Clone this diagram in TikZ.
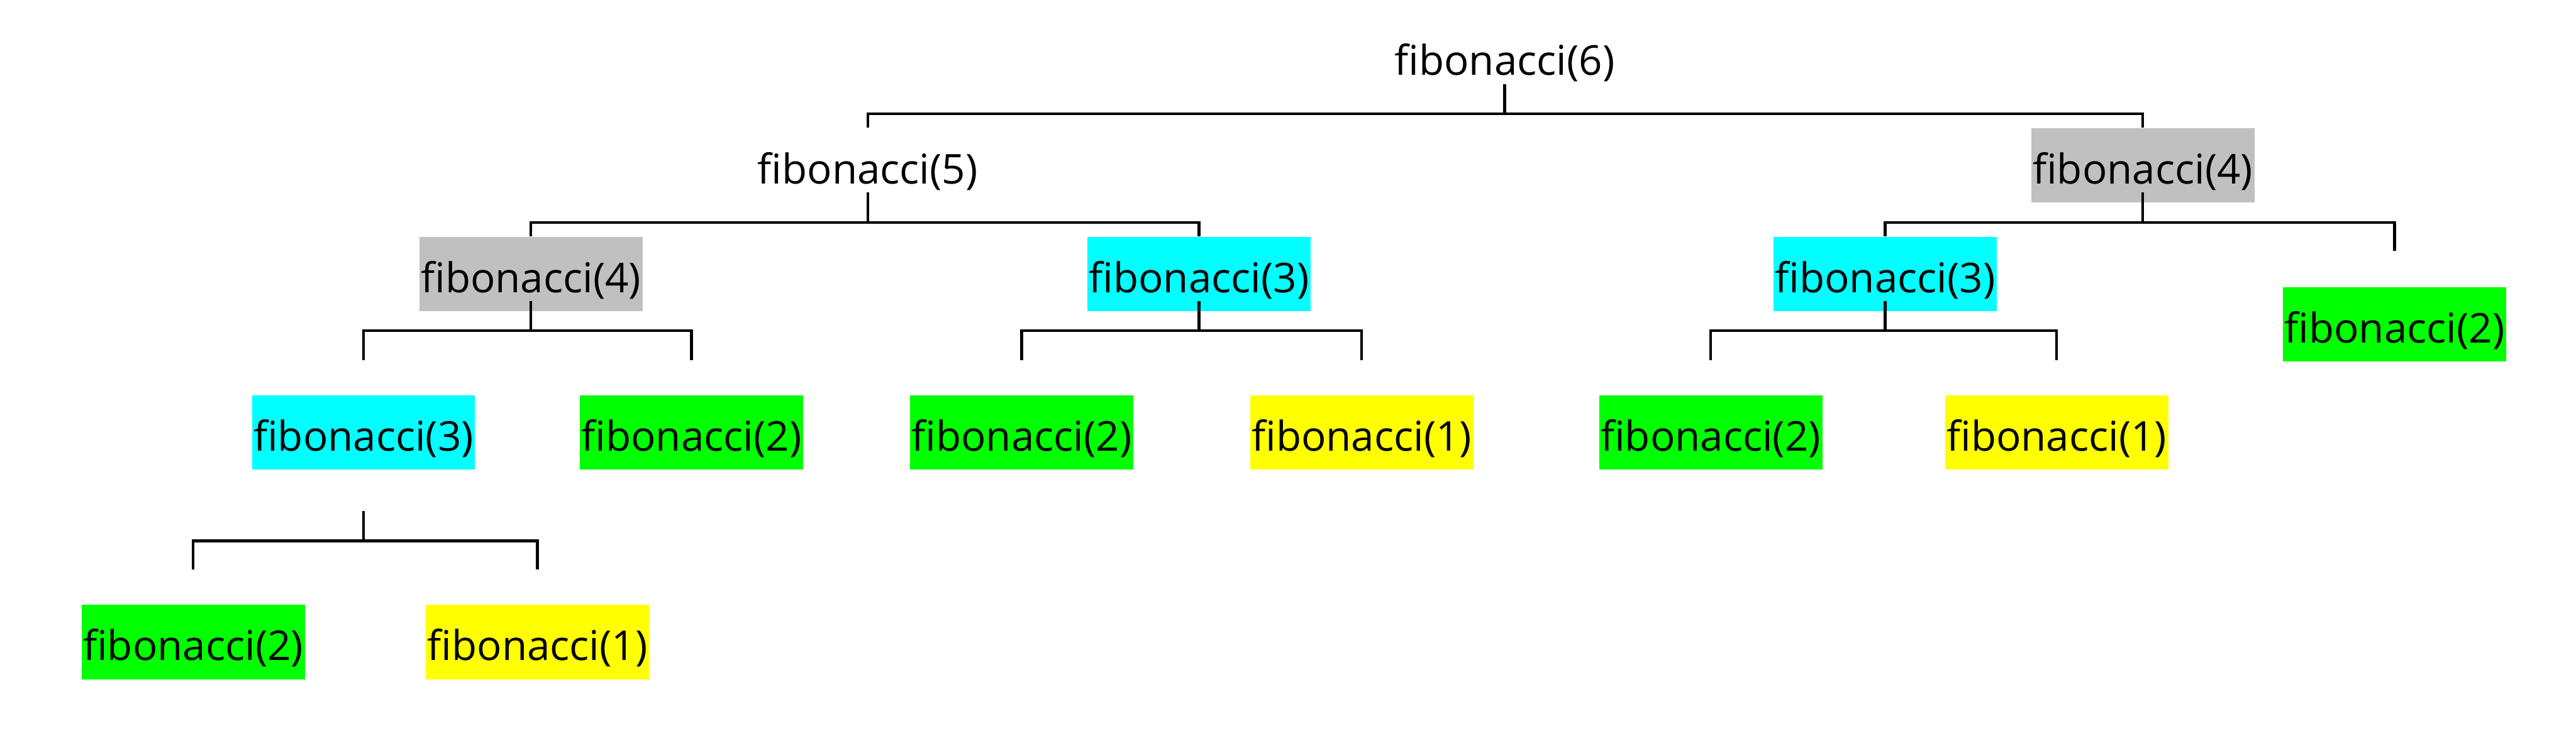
\documentclass[tikz,border=0pt]{standalone}
\usepackage{fontspec}
\setmainfont{Open Sans}
\usetikzlibrary{calc}
\definecolor{cgray}{HTML}{C0C0C0}
\definecolor{ccyan}{HTML}{00FFFF}
\definecolor{cgreen}{HTML}{00FF00}
\definecolor{cyell}{HTML}{FFFF00}
\tikzset{
  fib/.style={anchor=north, minimum width=3.81cm, text height=0.95cm, text depth=0.32cm,
    inner sep=0pt, font=\fontsize{20pt}{24pt}\selectfont},
  gbox/.style={fib, fill=cgray},
  cbox/.style={fib, fill=ccyan},
  grbox/.style={fib, fill=cgreen},
  ybox/.style={fib, fill=cyell},
  conn/.style={draw=black, line width=0.045cm, line join=miter}
}
\begin{document}
\begin{tikzpicture}
\useasboundingbox (0,0) rectangle (44,-12.78);
% nodes
\node[fib]   (n6)  at (25.70,-0.33) {fibonacci(6)};
\node[fib]   (n5)  at (14.82,-2.18) {fibonacci(5)};
\node[gbox]  (n4R) at (36.60,-2.18) {fibonacci(4)};
\node[gbox]  (n4L) at (9.07,-4.04) {fibonacci(4)};
\node[cbox]  (n3M) at (20.48,-4.04) {fibonacci(3)};
\node[cbox]  (n3R) at (32.20,-4.04) {fibonacci(3)};
\node[grbox] (n2R) at (40.90,-4.90) {fibonacci(2)};
\node[cbox]  (n3L) at (6.21,-6.75) {fibonacci(3)};
\node[grbox] (n2a) at (11.81,-6.75) {fibonacci(2)};
\node[grbox] (n2b) at (17.45,-6.75) {fibonacci(2)};
\node[ybox]  (n1a) at (23.26,-6.75) {fibonacci(1)};
\node[grbox] (n2c) at (29.22,-6.75) {fibonacci(2)};
\node[ybox]  (n1b) at (35.13,-6.75) {fibonacci(1)};
\node[grbox] (n2d) at (3.30,-10.33) {fibonacci(2)};
\node[ybox]  (n1c) at (9.18,-10.33) {fibonacci(1)};
% connectors
\draw[conn] ($(n6.south)+(0,0.18)$) -- ($(n6.south)+(0,-0.33)$);
\draw[conn] (n5.north) |- ($(n6.south)+(0,-0.33)$) -| (n4R.north);

\draw[conn] ($(n5.south)+(0,0.18)$) -- ($(n5.south)+(0,-0.34)$);
\draw[conn] (n4L.north) |- ($(n5.south)+(0,-0.34)$) -| (n3M.north);

\draw[conn] ($(n4R.south)+(0,0.18)$) -- ($(n4R.south)+(0,-0.34)$);
\draw[conn] (n3R.north) |- ($(n4R.south)+(0,-0.34)$) -| ($(n2R.north)+(0,0.61)$);

\draw[conn] ($(n4L.south)+(0,0.18)$) -- ($(n4L.south)+(0,-0.33)$);
\draw[conn] ($(n3L.north)+(0,0.60)$) |- ($(n4L.south)+(0,-0.33)$) -| ($(n2a.north)+(0,0.60)$);

\draw[conn] ($(n3M.south)+(0,0.18)$) -- ($(n3M.south)+(0,-0.33)$);
\draw[conn] ($(n2b.north)+(0,0.60)$) |- ($(n3M.south)+(0,-0.33)$) -| ($(n1a.north)+(0,0.60)$);

\draw[conn] ($(n3R.south)+(0,0.18)$) -- ($(n3R.south)+(0,-0.33)$);
\draw[conn] ($(n2c.north)+(0,0.60)$) |- ($(n3R.south)+(0,-0.33)$) -| ($(n1b.north)+(0,0.60)$);

\draw[conn] ($(n3L.south)+(0,-0.70)$) -- ($(n3L.south)+(0,-1.21)$);
\draw[conn] ($(n2d.north)+(0,0.60)$) |- ($(n3L.south)+(0,-1.21)$) -| ($(n1c.north)+(0,0.60)$);
\end{tikzpicture}
\end{document}
